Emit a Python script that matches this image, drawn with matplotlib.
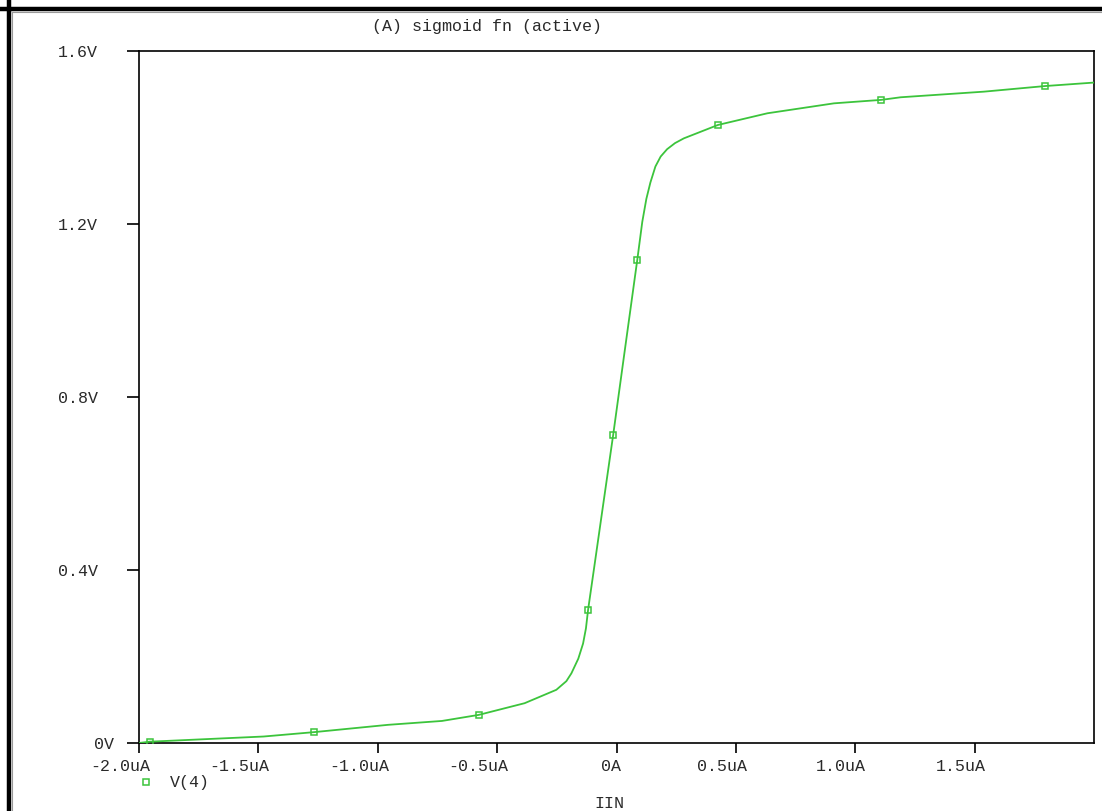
import matplotlib
matplotlib.use("Agg")
import matplotlib.pyplot as plt
from matplotlib.lines import Line2D
from matplotlib.transforms import ScaledTranslation

# ---- data (IIN in uA, V(4) in volts) ----
iin_ua = [-2.0, -1.956, -1.478, -1.269, -0.957, -0.731, -0.577, -0.385, -0.252,
          -0.210, -0.189, -0.160, -0.140, -0.128, -0.119, -0.095, -0.060, -0.014,
          0.031, 0.087, 0.108, 0.125, 0.142, 0.163, 0.185, 0.212, 0.245, 0.282,
          0.425, 0.632, 0.911, 1.109, 1.19, 1.539, 1.796, 2.0]
v4 = [0.0, 0.003, 0.015, 0.025, 0.042, 0.051, 0.065, 0.092, 0.123,
      0.143, 0.161, 0.195, 0.230, 0.265, 0.308, 0.400, 0.535, 0.712,
      0.893, 1.117, 1.205, 1.258, 1.296, 1.333, 1.356, 1.373, 1.387, 1.398,
      1.429, 1.456, 1.479, 1.487, 1.493, 1.506, 1.519, 1.527]
marker_iin = [-1.956, -1.269, -0.577, -0.119, -0.014, 0.087, 0.425, 1.109, 1.796]
marker_v = [0.003, 0.025, 0.065, 0.308, 0.712, 1.117, 1.429, 1.487, 1.519]

xticks = [-2.0, -1.5, -1.0, -0.5, 0.0, 0.5, 1.0, 1.5]
xticklabels = ["-2.0uA", "-1.5uA", "-1.0uA", "-0.5uA", "0A", "0.5uA", "1.0uA", "1.5uA"]
yticks = [0.0, 0.4, 0.8, 1.2, 1.6]
yticklabels = ["0V", "0.4V", "0.8V", "1.2V", "1.6V"]
title = "(A) sigmoid fn (active)"
xlabel = "IIN"
legend_label = "V(4)"

# ---- style ----
W, H, DPI = 1102, 811, 100
FONT = "Liberation Mono"
TXT = "#2a2a2a"
GREEN = "#3cc43c"
plt.rcParams["font.family"] = [FONT, "DejaVu Sans Mono"]

fig = plt.figure(figsize=(W / DPI, H / DPI), dpi=DPI)
fig.patch.set_facecolor("white")

def fx(px):
    return px / W

def fy(py):
    return 1 - py / H

# window frame (top & left edges of screenshot)
fig.add_artist(Line2D([0, 1], [fy(8.5), fy(8.5)], color="black", lw=3.2))
fig.add_artist(Line2D([fx(8.5), fx(8.5)], [0, 1], color="black", lw=3.2))
fig.add_artist(Line2D([fx(12), 1], [fy(11.5), fy(11.5)], color="#9a9a9a", lw=0.8))
fig.add_artist(Line2D([fx(11.5), fx(11.5)], [0, fy(12)], color="#9a9a9a", lw=0.8))

left, right, top, bottom = 139, 1094, 51, 743
ax = fig.add_axes([fx(left), fy(bottom), fx(right - left), (bottom - top) / H])
ax.set_xlim(-2.0, 2.0)
ax.set_ylim(0.0, 1.6)

ax.plot(iin_ua, v4, color=GREEN, lw=1.3, solid_joinstyle="round", zorder=3)
ax.plot(marker_iin, marker_v, ls="none", marker="s", ms=5, mfc="none",
        mec=GREEN, mew=1.1, zorder=4)

for s in ax.spines.values():
    s.set_color("black")
    s.set_linewidth(1.2)

ax.set_xticks(xticks, xticklabels)
ax.set_yticks(yticks, yticklabels)
ax.tick_params(axis="x", direction="out", length=7.5, width=1.2, color="black",
               pad=4, labelsize=12, labelcolor=TXT)
ax.tick_params(axis="y", direction="out", length=8.6, width=1.2, color="black",
               pad=21, labelsize=12, labelcolor=TXT)

for lab in ax.get_xticklabels():
    dx = 5 if lab.get_text() == "0A" else 11
    lab.set_horizontalalignment("right")
    lab.set_transform(lab.get_transform() + ScaledTranslation(dx / DPI, 0, fig.dpi_scale_trans))
for lab in ax.get_yticklabels():
    dx = 16 if lab.get_text() == "0V" else 0
    lab.set_transform(lab.get_transform() + ScaledTranslation(dx / DPI, 0, fig.dpi_scale_trans))

# title, axis label, legend
fig.text(fx(487.5), fy(27), title, ha="center", va="center", fontsize=12, color=TXT)
fig.text(fx(609), fy(803), xlabel, ha="center", va="center", fontsize=12, color=TXT)
fig.add_artist(Line2D([fx(146)], [fy(782)], marker="s", ms=4.3, mfc="none",
                      mec=GREEN, mew=1.1, ls="none"))
fig.text(fx(170), fy(783), legend_label, ha="left", va="center", fontsize=12, color=TXT)

fig.savefig("out.png", dpi=DPI, facecolor="white")
